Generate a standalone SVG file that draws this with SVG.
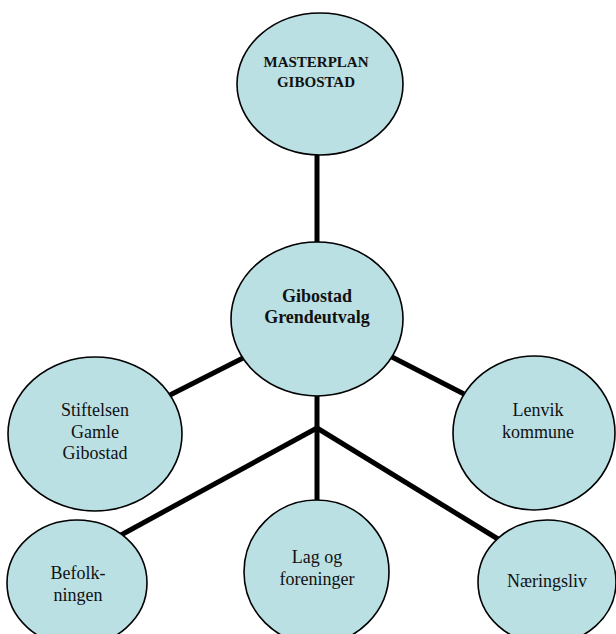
<svg xmlns="http://www.w3.org/2000/svg" width="616" height="634" viewBox="0 0 616 634">
<style>
.node ellipse{fill:#bae0e4;stroke:#000;stroke-width:1.6}
.node text{font-family:"Liberation Serif","Times New Roman",serif;font-size:18px;fill:#111;text-anchor:middle}
.bold text{font-weight:bold}
.conn line{stroke:#000;stroke-width:5;stroke-linecap:butt}
</style>
<rect width="616" height="634" fill="#fff"/>
<g id="connectors" class="conn">
<line x1="317" y1="154" x2="317" y2="244"/>
<line x1="317" y1="394" x2="317" y2="502"/>
<line x1="317" y1="428" x2="121" y2="535"/>
<line x1="317" y1="428" x2="498" y2="539"/>
<line x1="170" y1="395" x2="245" y2="357"/>
<line x1="390" y1="356" x2="464" y2="394"/>
</g>
<g id="masterplan" class="node bold">
<ellipse cx="320" cy="84" rx="83" ry="71"/>
<text x="316" y="67" style="font-size:15px">MASTERPLAN</text>
<text x="316" y="87" style="font-size:15px">GIBOSTAD</text>
</g>
<g id="grendeutvalg" class="node bold">
<ellipse cx="317" cy="319" rx="86" ry="77"/>
<text x="317" y="302">Gibostad</text>
<text x="317" y="323">Grendeutvalg</text>
</g>
<g id="stiftelsen" class="node">
<ellipse cx="95" cy="434" rx="87" ry="77"/>
<text x="95" y="416">Stiftelsen</text>
<text x="95" y="438">Gamle</text>
<text x="95" y="459">Gibostad</text>
</g>
<g id="lenvik" class="node">
<ellipse cx="534" cy="433" rx="81" ry="77"/>
<text x="538" y="416">Lenvik</text>
<text x="538" y="438">kommune</text>
</g>
<g id="befolkningen" class="node">
<ellipse cx="77" cy="583" rx="70" ry="63"/>
<text x="78" y="579">Befolk-</text>
<text x="78" y="601">ningen</text>
</g>
<g id="lag" class="node">
<ellipse cx="316.5" cy="572" rx="72.5" ry="72"/>
<text x="317" y="563">Lag og</text>
<text x="317" y="585">foreninger</text>
</g>
<g id="naeringsliv" class="node">
<ellipse cx="547" cy="582" rx="69" ry="62"/>
<text x="547" y="587">Næringsliv</text>
</g>
</svg>
